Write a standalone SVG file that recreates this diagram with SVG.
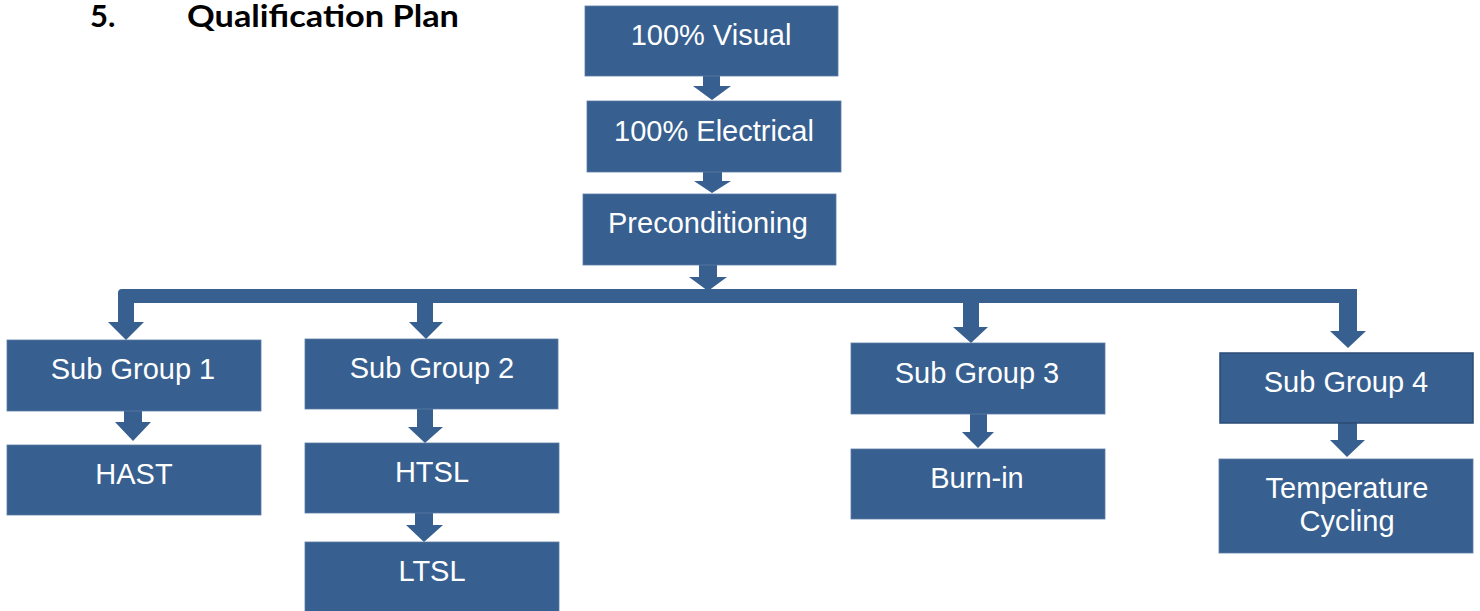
<svg xmlns="http://www.w3.org/2000/svg" width="1480" height="611" viewBox="0 0 1480 611">
<style>
.box{fill:#375f8f;stroke:#5a7ca6;stroke-width:0.8}
.box4{fill:#375f8f;stroke:#2b4b75;stroke-width:1.5}
.lbl{font-family:"Liberation Sans",Arial,sans-serif;font-size:29px;fill:#ffffff;text-anchor:middle}
.arr{fill:#375f8f}
.title{font-family:Lato,"Liberation Sans",sans-serif;font-weight:bold;font-size:31px;fill:#000000}
</style>
<rect width="1480" height="611" fill="#ffffff"/>
<g id="title">
<text class="title" x="90" y="27">5.</text>
<text class="title" x="187" y="27" textLength="272" lengthAdjust="spacingAndGlyphs">Qualification Plan</text>
</g>
<g id="connectors">
<polygon class="arr" points="703,76 720,76 720,86 731,86 712,100 693,86 703,86"/>
<polygon class="arr" points="703,172 722,172 722,181 731,181 712,193 694,181 703,181"/>
<polygon class="arr" points="699,265 717,265 717,277 727,277 708,291 689,277 699,277"/>
<path class="arr" d="M122,289 L1357,289 L1357,331 L1366,331 L1348,348 L1330,331 L1339,331 L1339,303 L988,303 L979,303 L979,327 L988,327 L971,343 L953,327 L963,327 L963,303 L433,303 L433,322 L443,322 L426,339 L409,322 L417,322 L417,303 L134,303 L134,322 L144,322 L126,340 L108,322 L118,322 L118,293 Q118,289 122,289 Z"/>
<polygon class="arr" points="124,411 142,411 142,422 151,422 133,441 115,422 124,422"/>
<polygon class="arr" points="417,409 433,409 433,427 443,427 425,443 408,427 417,427"/>
<polygon class="arr" points="415,513 433,513 433,525 443,525 424,542 406,525 415,525"/>
<polygon class="arr" points="970,414 987,414 987,432 994,432 978,448 962,432 970,432"/>
<polygon class="arr" points="1338,423 1357,423 1357,440 1365,440 1347,457 1330,440 1338,440"/>
</g>
<g id="visual"><rect class="box" x="585" y="6" width="253" height="70"/><text class="lbl" x="711" y="45">100% Visual</text></g>
<g id="electrical"><rect class="box" x="587" y="101" width="254" height="71"/><text class="lbl" x="714" y="141">100% Electrical</text></g>
<g id="precond"><rect class="box" x="583" y="194" width="253" height="71"/><text class="lbl" x="708" y="233">Preconditioning</text></g>
<g id="sg1"><rect class="box" x="7" y="340" width="254" height="71"/><text class="lbl" x="133" y="379">Sub Group 1</text></g>
<g id="hast"><rect class="box" x="7" y="445" width="254" height="70"/><text class="lbl" x="134" y="484">HAST</text></g>
<g id="sg2"><rect class="box" x="305" y="339" width="253" height="70"/><text class="lbl" x="432" y="378">Sub Group 2</text></g>
<g id="htsl"><rect class="box" x="305" y="443" width="254" height="70"/><text class="lbl" x="432" y="482">HTSL</text></g>
<g id="ltsl"><rect class="box" x="305" y="542" width="254" height="72"/><text class="lbl" x="432" y="581">LTSL</text></g>
<g id="sg3"><rect class="box" x="851" y="343" width="254" height="71"/><text class="lbl" x="977" y="383">Sub Group 3</text></g>
<g id="burnin"><rect class="box" x="851" y="449" width="254" height="70"/><text class="lbl" x="977" y="488">Burn-in</text></g>
<g id="sg4"><rect class="box4" x="1220" y="353" width="253" height="70"/><text class="lbl" x="1346" y="392">Sub Group 4</text></g>
<g id="tempcyc"><rect class="box" x="1219" y="459" width="254" height="94"/><text class="lbl" x="1347" y="498">Temperature</text><text class="lbl" x="1347" y="531">Cycling</text></g>
</svg>
